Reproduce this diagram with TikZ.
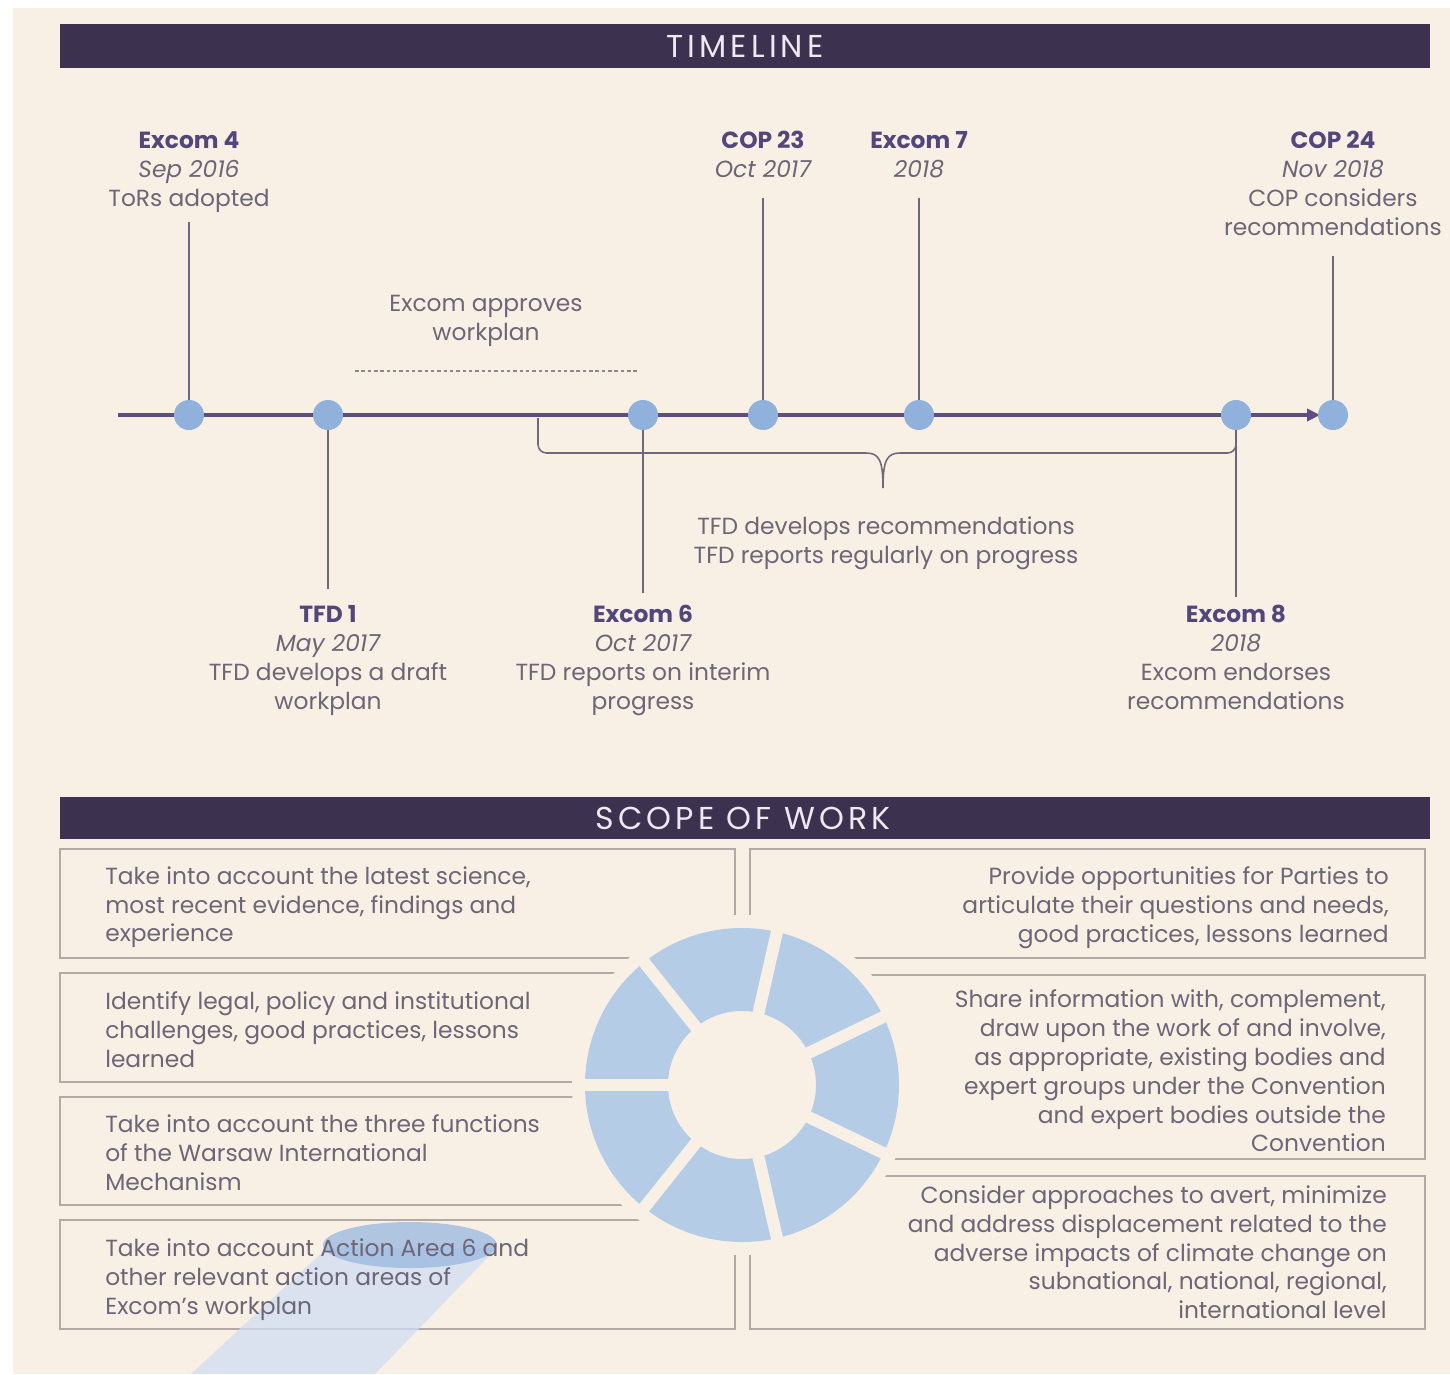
\documentclass[tikz,border=0pt]{standalone}
\usepackage{fontspec}
\setmainfont{Poppins}
\newfontfamily\bannerfont[LetterSpace=13]{Poppins}
\usetikzlibrary{arrows.meta}
\definecolor{paper}{HTML}{F8F0E4}
\definecolor{bannerbg}{HTML}{3D3150}
\definecolor{bannerfg}{HTML}{EEE8F0}
\definecolor{axispurple}{HTML}{5E4E7E}
\definecolor{dotblue}{HTML}{8FB1DC}
\definecolor{donutblue}{HTML}{B5CCE6}
\definecolor{txtgray}{HTML}{6C6676}
\definecolor{headpurple}{HTML}{52467A}
\definecolor{stemgray}{HTML}{6E6878}
\definecolor{boxgray}{HTML}{B3AAA6}
\definecolor{hlblue}{HTML}{9DBBE0}
\definecolor{beamblue}{HTML}{D0DEF4}
\newcommand\lblfont{\fontsize{16.6}{20.6}\selectfont}
\newcommand\hd[1]{{\bfseries\color{headpurple}#1}}
\newcommand\dt[1]{{\itshape #1}}
\tikzset{
  dot/.style={circle, fill=dotblue, minimum size=0.75cm, inner sep=0pt},
  lbl/.style={align=center, inner sep=0pt, text=txtgray, font=\lblfont, text depth=0pt},
  stem/.style={draw=stemgray, line width=1.1pt},
  axis/.style={draw=axispurple, line width=2.8pt, -{Triangle[length=0.32cm, width=0.3cm]}},
  bannertxt/.style={text=bannerfg, inner sep=0pt, font=\bannerfont\fontsize{22.5}{26}\selectfont},
  scopebox/.style={draw=boxgray, line width=1.1pt},
  boxtxt/.style={inner sep=0pt, text=txtgray, font=\lblfont},
}
\begin{document}
\begin{tikzpicture}[x=0.025cm, y=-0.025cm]
\useasboundingbox (0,0) rectangle (1450,1374);
\fill[white] (0,0) rectangle (1450,1374);
\fill[paper] (13,8) rectangle (1450,1374);

% timeline
\fill[bannerbg] (60,24) rectangle (1430,68);
\node[bannertxt] (tltitle) at (745,46) {TIMELINE};

\coordinate (axstart) at (118,415);
\coordinate (axend) at (1320,415);
\draw[axis] (axstart) -- (axend);
\node[dot] (d1) at (189,415) {};
\node[dot] (d2) at (328,415) {};
\node[dot] (d3) at (643,415) {};
\node[dot] (d4) at (763,415) {};
\node[dot] (d5) at (919,415) {};
\node[dot] (d6) at (1236,415) {};
\node[dot] (d7) at (1333,415) {};

\node[lbl, anchor=north] (ex4) at (189,131) {\hd{Excom 4}\\\dt{Sep 2016}\\ToRs adopted};
\node[lbl, anchor=north] (cop23) at (763,131) {\hd{COP 23}\\\dt{Oct 2017}};
\node[lbl, anchor=north] (ex7) at (919,131) {\hd{Excom 7}\\\dt{2018}};
\node[lbl, anchor=north] (cop24) at (1333,131) {\hd{COP 24}\\\dt{Nov 2018}\\COP considers\\recommendations};
\node[lbl, anchor=north] (tfd1) at (328,605) {\hd{TFD 1}\\\dt{May 2017}\\TFD develops a draft\\workplan};
\node[lbl, anchor=north] (ex6) at (643,605) {\hd{Excom 6}\\\dt{Oct 2017}\\TFD reports on interim\\progress};
\node[lbl, anchor=north] (ex8) at (1236,605) {\hd{Excom 8}\\\dt{2018}\\Excom endorses\\recommendations};

\draw[stem, shorten <=0.4cm] (ex4.south) -- (d1);
\draw[stem, shorten <=0.5cm] (cop23.south) -- (d4);
\draw[stem, shorten <=0.5cm] (ex7.south) -- (d5);
\draw[stem, shorten <=0.5cm] (cop24.south) -- (d7);
\draw[stem, shorten >=0.4cm] (d2) -- (tfd1.north);
\draw[stem, shorten >=0.3cm] (d3) -- (ex6.north);
\draw[stem, shorten >=0.2cm] (d6) -- (ex8.north);

\node[lbl, anchor=north] (wplan) at (486,295) {Excom approves\\workplan};
\draw[stemgray!80, line width=1pt, dash pattern=on 2.5pt off 2pt] (355,371) -- (637,371);

% brace under the axis
\draw[stem, rounded corners=6pt] (538,418) |- (866,453);
\draw[stem] (866,453) .. controls (879,453) and (883,460) .. (883,488)
  .. controls (883,460) and (887,453) .. (900,453);
\draw[stem, rounded corners=6pt] (900,453) -| (d6);
\node[lbl, anchor=north] (tfdrec) at (886,516) {TFD develops recommendations\\TFD reports regularly on progress};

% scope of work
\fill[bannerbg] (60,797) rectangle (1430,839);
\node[bannertxt] (swtitle) at (743,818) {SCOPE OF WORK};

\draw[scopebox] (60,849) rectangle (735,958);
\draw[scopebox] (60,973) rectangle (735,1082);
\draw[scopebox] (60,1097) rectangle (735,1205);
\draw[scopebox] (60,1220) rectangle (735,1329);
\draw[scopebox] (750,849) rectangle (1425,958);
\draw[scopebox] (750,975) rectangle (1425,1159);
\draw[scopebox] (750,1176) rectangle (1425,1329);

\fill[paper] (742,1085) circle[radius=170];
\fill[donutblue, even odd rule] (742,1085) circle[radius=157] circle[radius=74];
\foreach \a in {0,...,6}
  \draw[paper, line width=0.3cm] (742,1085) -- ++({180-\a*360/7}:162);

\fill[beamblue, opacity=0.75] (327,1248) -- (497,1248) -- (375,1374) -- (191,1374) -- cycle;
\fill[hlblue, opacity=0.8] (410,1245) ellipse[x radius=87, y radius=23];

\node[boxtxt, align=left, anchor=north west] (sl1) at (105,866) {Take into account the latest science,\\most recent evidence, findings and\\experience};
\node[boxtxt, align=left, anchor=north west] (sl2) at (105,991) {Identify legal, policy and institutional\\challenges, good practices, lessons\\learned};
\node[boxtxt, align=left, anchor=north west] (sl3) at (105,1114) {Take into account the three functions\\of the Warsaw International\\Mechanism};
\node[boxtxt, align=left, anchor=north west] (sl4) at (105,1238) {Take into account Action Area 6 and\\other relevant action areas of\\Excom's workplan};
\node[boxtxt, align=right, anchor=north east] (sr1) at (1389,866) {Provide opportunities for Parties to\\articulate their questions and needs,\\good practices, lessons learned};
\node[boxtxt, align=right, anchor=north east] (sr2) at (1386,989) {Share information with, complement,\\draw upon the work of and involve,\\as appropriate, existing bodies and\\expert groups under the Convention\\and expert bodies outside the\\Convention};
\node[boxtxt, align=right, anchor=north east] (sr3) at (1387,1185) {Consider approaches to avert, minimize\\and address displacement related to the\\adverse impacts of climate change on\\subnational, national, regional,\\international level};
\end{tikzpicture}
\end{document}
